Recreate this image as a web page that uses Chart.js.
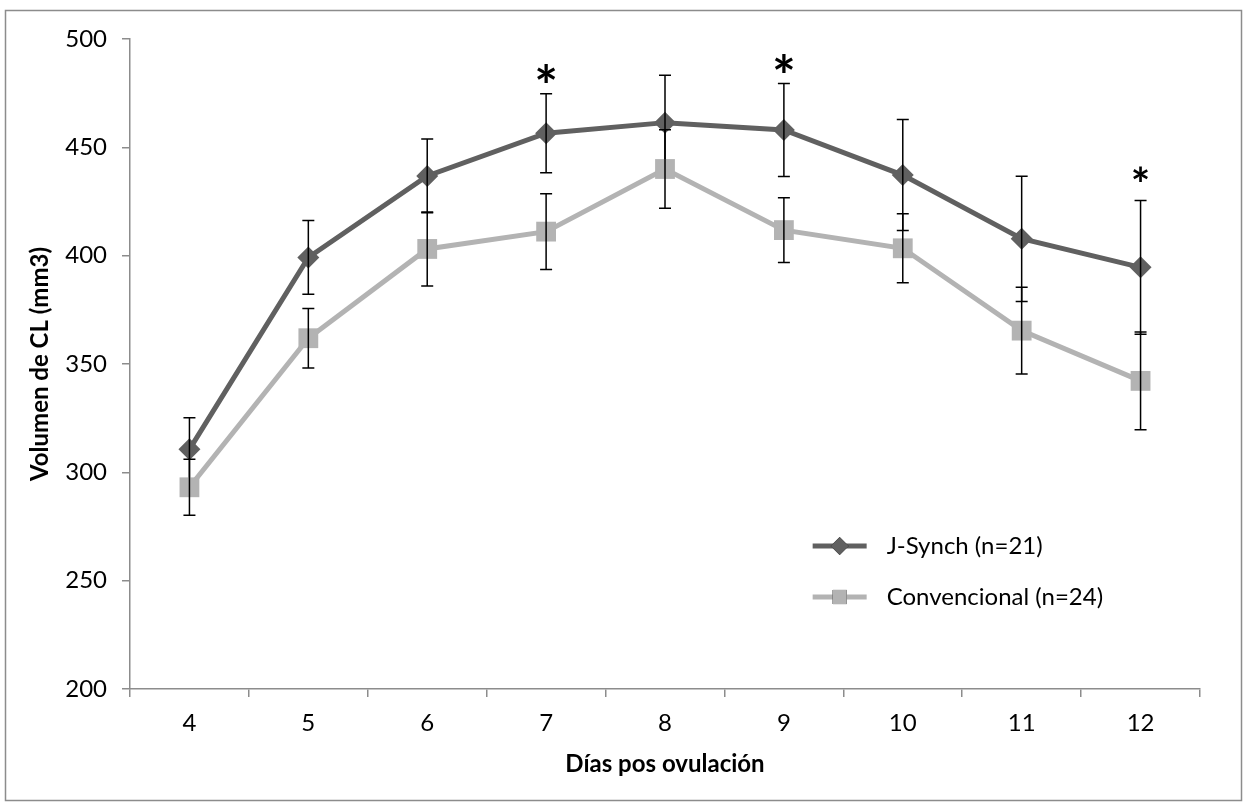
<!DOCTYPE html>
<html>
<head>
<meta charset="utf-8">
<script src="https://cdn.jsdelivr.net/npm/chart.js@4.4.1/dist/chart.umd.min.js"></script>
<style>
  html, body { margin: 0; padding: 0; background: #fff; }
  #wrap { position: relative; width: 1246px; height: 807px; }
</style>
</head>
<body>
<div id="wrap"><canvas id="volChart" width="1246" height="807"></canvas></div>
<script>
// datos
const days = ['4', '5', '6', '7', '8', '9', '10', '11', '12'];
const jsynch    = [310.6, 399.2, 436.8, 456.5, 461.4, 458.0, 437.2, 407.8, 394.6];
const jsynchErr = [14.6, 17.0, 17.0, 18.2, 21.9, 21.5, 25.6, 28.9, 30.9];
const conv      = [293.1, 361.9, 403.1, 411.1, 440.0, 411.8, 403.4, 365.4, 342.2];
const convErr   = [12.9, 13.7, 17.1, 17.5, 18.1, 14.9, 15.9, 20.0, 22.6];
const sigDays   = ['7', '9', '12'];   // diferencias significativas (*)
const yMin = 200, yMax = 500, yStep = 50;

const DARK = '#606060';
const LIGHT = '#b3b3b3';
const AXIS = '#8c8c8c';
const FONT = 'Lato';

// marco exterior
const framePlugin = {
    id: 'frame',
    beforeDraw(chart) {
        const ctx = chart.ctx;
        ctx.save();
        ctx.fillStyle = '#fff';
        ctx.fillRect(0, 0, chart.width, chart.height);
        ctx.strokeStyle = AXIS;
        ctx.lineWidth = 1.5;
        ctx.strokeRect(5.5, 10.5, chart.width - 10, chart.height - 17);
        ctx.restore();
    }
};

// barras de error
const errorBars = {
    id: 'errorBars',
    afterDatasetDraw(chart, args) {
        const ds = chart.data.datasets[args.index];
        if (!ds.errors) return;
        const ctx = chart.ctx;
        const y = chart.scales.y;
        ctx.save();
        ctx.strokeStyle = '#000';
        ctx.lineWidth = 1.5;
        args.meta.data.forEach((pt, i) => {
            const top = y.getPixelForValue(ds.data[i] + ds.errors[i]);
            const bot = y.getPixelForValue(ds.data[i] - ds.errors[i]);
            ctx.beginPath();
            ctx.moveTo(pt.x, top); ctx.lineTo(pt.x, bot);
            ctx.moveTo(pt.x - 6, top); ctx.lineTo(pt.x + 6, top);
            ctx.moveTo(pt.x - 6, bot); ctx.lineTo(pt.x + 6, bot);
            ctx.stroke();
        });
        ctx.restore();
    }
};

// asteriscos
const stars = {
    id: 'stars',
    afterDatasetsDraw(chart) {
        const ctx = chart.ctx;
        const x = chart.scales.x, y = chart.scales.y;
        ctx.save();
        ctx.fillStyle = '#000';
        ctx.textAlign = 'center';
        ctx.textBaseline = 'alphabetic';
        sigDays.forEach(d => {
            const i = days.indexOf(d);
            const last = i === days.length - 1;
            const size = last ? 46 : 56;
            const gap = last ? 27 : 21;
            ctx.font = 'bold ' + size + 'px ' + FONT;
            const px = x.getPixelForValue(i);
            const cy = y.getPixelForValue(jsynch[i] + jsynchErr[i]) - gap;
            ctx.fillText('*', px, cy + size * 0.6);
        });
        ctx.restore();
    }
};

// leyenda dentro del area
const insideLegend = {
    id: 'insideLegend',
    afterDraw(chart) {
        const ctx = chart.ctx;
        const a = chart.chartArea;
        const x0 = a.left + (a.right - a.left) * 0.638;
        const y0 = a.top + (a.bottom - a.top) * 0.78;
        const rows = chart.data.datasets;
        ctx.save();
        ctx.font = '24px ' + FONT;
        ctx.textBaseline = 'middle';
        ctx.fillStyle = '#000';
        rows.forEach((ds, k) => {
            const yy = y0 + k * 51;
            ctx.strokeStyle = ds.borderColor;
            ctx.lineWidth = 5;
            ctx.beginPath();
            ctx.moveTo(x0, yy); ctx.lineTo(x0 + 54, yy);
            ctx.stroke();
            Chart.helpers.drawPoint(ctx, {
                pointStyle: ds.pointStyle,
                radius: ds.pointStyle === 'rect' ? 10 : 9,
                borderWidth: 0
            }, x0 + 27, yy);
            ctx.fillStyle = ds.pointBackgroundColor;
            ctx.fill();
            ctx.fillStyle = '#000';
            ctx.fillText(ds.label, x0 + 74, yy);
        });
        ctx.restore();
    }
};

new Chart(document.getElementById('volChart'), {
    type: 'line',
    data: {
        labels: days,
        datasets: [
            {
                label: 'J-Synch (n=21)',
                data: jsynch,
                errors: jsynchErr,
                borderColor: DARK,
                backgroundColor: DARK,
                pointBackgroundColor: DARK,
                pointBorderWidth: 0,
                borderWidth: 5,
                pointStyle: 'rectRot',
                pointRadius: 11,
                tension: 0,
                order: 1
            },
            {
                label: 'Convencional (n=24)',
                data: conv,
                errors: convErr,
                borderColor: LIGHT,
                backgroundColor: LIGHT,
                pointBackgroundColor: LIGHT,
                pointBorderWidth: 0,
                borderWidth: 5,
                pointStyle: 'rect',
                pointRadius: 14,
                tension: 0,
                order: 0
            }
        ]
    },
    options: {
        responsive: false,
        animation: false,
        devicePixelRatio: 1,
        layout: { padding: { left: 0, top: 39, right: 46, bottom: 0 } },
        plugins: {
            legend: { display: false },
            tooltip: { enabled: false }
        },
        scales: {
            x: {
                offset: true,
                grid: {
                    display: true, drawOnChartArea: false, drawTicks: true,
                    tickLength: 8, offset: true, color: AXIS, lineWidth: 1.5
                },
                border: { display: true, color: AXIS, width: 1.5 },
                ticks: { color: '#000', font: { family: FONT, size: 24 }, padding: 12 },
                title: {
                    display: true, text: 'Días pos ovulación', color: '#000',
                    font: { family: FONT, size: 24, weight: 'bold' },
                    padding: { top: 0, bottom: 28 }
                },
                afterFit(s) { s.height = 118; }
            },
            y: {
                min: yMin,
                max: yMax,
                grid: {
                    display: true, drawOnChartArea: false, drawTicks: true,
                    tickLength: 8, color: AXIS, lineWidth: 1.5
                },
                border: { display: true, color: AXIS, width: 1.5 },
                ticks: { stepSize: yStep, color: '#000', font: { family: FONT, size: 24 }, padding: 15 },
                title: {
                    display: true, text: 'Volumen de CL (mm3)', color: '#000',
                    font: { family: FONT, size: 24, weight: 'bold' },
                    padding: { top: 26, bottom: 0 }
                },
                afterFit(s) { s.width = 130; }
            }
        }
    },
    plugins: [framePlugin, errorBars, stars, insideLegend]
});
</script>
</body>
</html>
